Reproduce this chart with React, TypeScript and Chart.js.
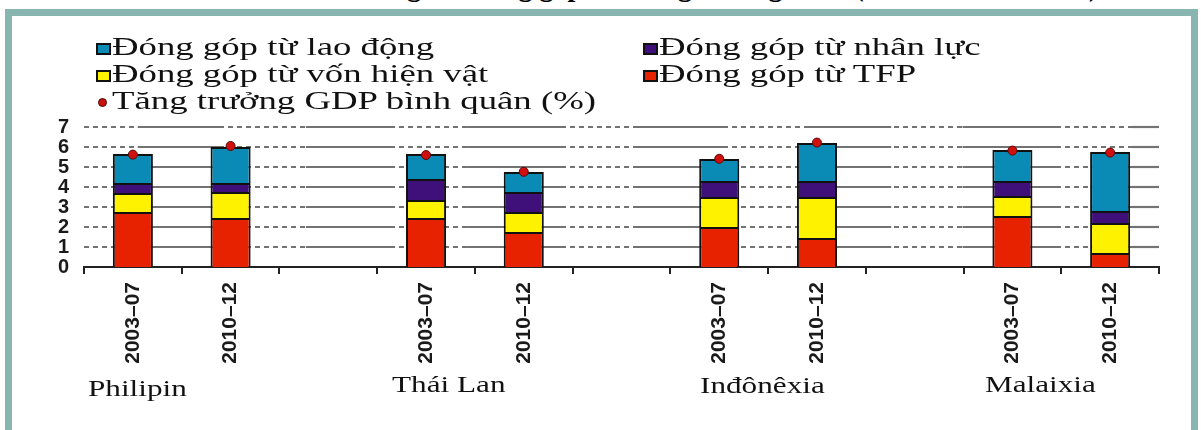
import { useEffect, useRef } from 'react';
import { Chart, registerables } from 'chart.js';

Chart.register(...registerables);

// Period slots: two periods per country, with an empty slot between countries
const periods = ['2003–07', '2010–12', '', '2003–07', '2010–12', '', '2003–07', '2010–12', '', '2003–07', '2010–12'];
const countries = ['Philipin', 'Thái Lan', 'Inđônêxia', 'Malaixia'];

// Contributions to growth (percentage points), stacked bottom to top
const tfp = [2.75, 2.45, null, 2.45, 1.75, null, 2.0, 1.45, null, 2.55, 0.7];
const physicalCapital = [0.95, 1.3, null, 0.9, 1.0, null, 1.5, 2.05, null, 1.0, 1.5];
const humanCapital = [0.5, 0.45, null, 1.05, 1.0, null, 0.8, 0.8, null, 0.75, 0.6];
const labour = [1.45, 1.8, null, 1.25, 1.0, null, 1.1, 1.9, null, 1.55, 2.95];
const gdpGrowth = [5.62, 6.05, null, 5.6, 4.76, null, 5.41, 6.22, null, 5.82, 5.72];

const yTicks = [0, 1, 2, 3, 4, 5, 6, 7];

const labourName = 'Đóng góp từ lao động';
const humanName = 'Đóng góp từ nhân lực';
const capitalName = 'Đóng góp từ vốn hiện vật';
const tfpName = 'Đóng góp từ TFP';
const gdpName = 'Tăng trưởng GDP bình quân (%)';
const titleText = 'Các nguồn đóng góp vào tăng trưởng GDP (thời kì 2003 – 2012)';

const BLUE = '#0a8bb6';
const PURPLE = '#40107a';
const YELLOW = '#fff200';
const RED = '#e62200';

// Horizontal grid lines are dashed, with solid runs over these slot ranges
const solidRuns: [number, number][] = [
  [0.55, 1.43], [2.27, 3.17], [3.92, 4.92], [5.63, 6.54], [7.38, 8.26], [8.99, 9.99], [10.72, 11],
];

const mixedGrid = {
  id: 'mixedGrid',
  beforeDatasetsDraw(chart: any) {
    const { ctx, chartArea, scales } = chart;
    const y = scales.y;
    const slot = chartArea.width / periods.length;
    ctx.save();
    ctx.strokeStyle = '#737373';
    ctx.lineWidth = 2.2;
    yTicks.filter((v) => v > 0).forEach((v) => {
      const py = Math.round(y.getPixelForValue(v));
      ctx.setLineDash([5, 4]);
      ctx.beginPath();
      ctx.moveTo(chartArea.left, py);
      ctx.lineTo(chartArea.right, py);
      ctx.stroke();
      ctx.setLineDash([]);
      solidRuns.forEach(([a, b]) => {
        ctx.beginPath();
        ctx.moveTo(chartArea.left + a * slot, py);
        ctx.lineTo(chartArea.left + b * slot, py);
        ctx.stroke();
      });
    });
    ctx.restore();
  },
};

const serif = '"Liberation Serif", "Times New Roman", serif';

function LegendItem({ left, top, color, dot, text }: { left: number; top: number; color: string; dot?: boolean; text: string }) {
  return (
    <>
      {dot ? (
        <div style={{ position: 'absolute', left: left + 2, top: top + 1, width: 7, height: 7, borderRadius: '50%', background: '#c81010', border: '1px solid #4a0808' }} />
      ) : (
        <div style={{ position: 'absolute', left, top, width: 11, height: 8, background: color, border: '2px solid #111' }} />
      )}
      <div style={{ position: 'absolute', left: left + 16, top: top - 9, fontFamily: serif, fontSize: 25, lineHeight: '25px', color: '#111', whiteSpace: 'nowrap', transform: 'scaleX(1.47)', transformOrigin: 'left center' }}>{text}</div>
    </>
  );
}

export default function App() {
  const canvasRef = useRef<HTMLCanvasElement | null>(null);

  useEffect(() => {
    if (!canvasRef.current) return;
    const barCommon = {
      type: 'bar' as const,
      borderColor: '#111',
      borderWidth: 2,
      borderSkipped: 'start' as const,
      barPercentage: 0.41,
      categoryPercentage: 1,
      stack: 'parts',
      order: 1,
    };
    const chart = new Chart(canvasRef.current, {
      type: 'bar',
      data: {
        labels: periods,
        datasets: [
          { ...barCommon, label: tfpName, data: tfp, backgroundColor: RED },
          { ...barCommon, label: capitalName, data: physicalCapital, backgroundColor: YELLOW },
          { ...barCommon, label: humanName, data: humanCapital, backgroundColor: PURPLE },
          { ...barCommon, label: labourName, data: labour, backgroundColor: BLUE },
          {
            type: 'line' as const,
            label: gdpName,
            data: gdpGrowth,
            showLine: false,
            pointRadius: 4.5,
            pointBackgroundColor: '#d0100f',
            pointBorderColor: '#5a0808',
            pointBorderWidth: 1,
            stack: 'gdp',
            order: 0,
          } as any,
        ],
      },
      options: {
        responsive: false,
        animation: false,
        layout: { padding: { top: 127, right: 42, left: 0, bottom: 0 } },
        plugins: { legend: { display: false }, tooltip: { enabled: false } },
        scales: {
          x: {
            stacked: true,
            offset: true,
            grid: { offset: true, drawOnChartArea: false, drawTicks: true, tickLength: 7, color: '#222', lineWidth: 2 },
            border: { display: true, color: '#222', width: 2 },
            ticks: {
              autoSkip: false,
              minRotation: 90,
              maxRotation: 90,
              padding: 8,
              color: '#1a1a1a',
              font: { family: '"Liberation Sans", Arial, sans-serif', weight: 'bold', size: 21 },
            },
            afterFit: (s: any) => { s.height = 163; },
          },
          y: {
            stacked: true,
            min: 0,
            max: 7,
            grid: { display: false, drawTicks: false },
            border: { display: false },
            ticks: {
              autoSkip: false,
              stepSize: 1,
              padding: 15,
              color: '#1a1a1a',
              font: { family: '"Liberation Sans", Arial, sans-serif', weight: 'bold', size: 20, lineHeight: 1 },
            },
            afterFit: (s: any) => { s.width = 84; },
          },
        },
      },
      plugins: [mixedGrid],
    });
    return () => chart.destroy();
  }, []);

  return (
    <div style={{ position: 'fixed', left: 0, top: 0, width: 1201, height: 430, background: '#fff', overflow: 'hidden' }}>
      <div style={{ position: 'absolute', left: 338, top: -27, fontFamily: serif, fontWeight: 'bold', fontSize: 28, lineHeight: '28px', color: '#000', whiteSpace: 'nowrap' }}>{titleText}</div>
      <div style={{ position: 'absolute', left: 5, top: 9, width: 1193, height: 520, boxSizing: 'border-box', border: '7px solid #88b5b0' }} />
      <canvas ref={canvasRef} width={1201} height={430} style={{ position: 'absolute', left: 0, top: 0, width: 1201, height: 430 }} />
      <LegendItem left={96} top={43} color={BLUE} text={labourName} />
      <LegendItem left={96} top={70} color={YELLOW} text={capitalName} />
      <LegendItem left={96} top={97} color="" dot text={gdpName} />
      <LegendItem left={643} top={43} color={PURPLE} text={humanName} />
      <LegendItem left={643} top={70} color={RED} text={tfpName} />
      {countries.map((c, i) => (
        <div key={c} style={{ position: 'absolute', left: [88, 392, 700, 985][i], top: [376, 372, 373, 372][i], fontFamily: serif, fontSize: 24, lineHeight: '24px', color: '#111', whiteSpace: 'nowrap', transform: 'scaleX(1.3)', transformOrigin: 'left center' }}>{c}</div>
      ))}
    </div>
  );
}
